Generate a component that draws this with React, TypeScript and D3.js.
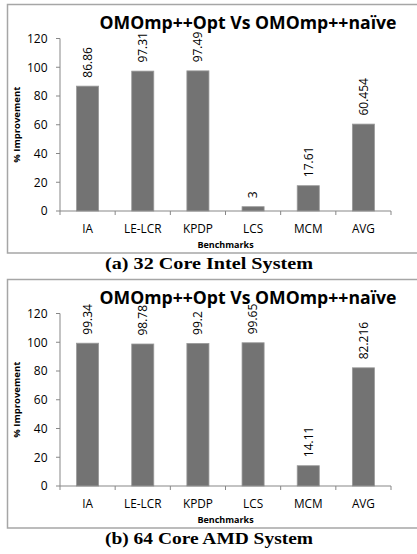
import React from "react";
import * as d3 from "d3";

const categories = ["IA", "LE-LCR", "KPDP", "LCS", "MCM", "AVG"];
const intelValues = [86.86, 97.31, 97.49, 3, 17.61, 60.454];
const amdValues = [99.34, 98.78, 99.2, 99.65, 14.11, 82.216];
const yTicks = [0, 20, 40, 60, 80, 100, 120];
const chartTitle = "OMOmp++Opt Vs OMOmp++naïve";
const yLabel = "% Improvement";
const xLabel = "Benchmarks";
const captions = ["(a) 32 Core Intel System", "(b) 64 Core AMD System"];

const W = 417;
const H = 554;
const SANS = "'Open Sans', 'Liberation Sans', sans-serif";
const SERIF = "'Liberation Serif', 'DejaVu Serif', serif";
const AXIS = "#878787";
const BAR = "#737373";

function Panel({ values, caption, dy }: { values: number[]; caption: string; dy: number }) {
  const x = d3.scaleBand<string>().domain(categories).range([60, 391]).paddingInner(0.6).paddingOuter(0.3);
  const y = d3.scaleLinear().domain([0, 120]).range([211, 38.5]);
  const x0 = 60;
  const bounds = d3.range(categories.length + 1).map((i) => x0 + i * (331 / categories.length));
  return (
    <g transform={`translate(0,${dy})`}>
      <rect x={7.5} y={4.5} width={430} height={248.5} fill="white" stroke="#a6a6a6" strokeWidth={1.5} />
      <text x={248} y={29} textAnchor="middle" fontFamily={SANS} fontWeight="bold" fontSize={18.5} textLength={297} lengthAdjust="spacingAndGlyphs" fill="#000">
        {chartTitle}
      </text>
      {/* y axis */}
      <line x1={60} x2={60} y1={y(120)} y2={y(0)} stroke={AXIS} strokeWidth={1} />
      {yTicks.map((t) => (
        <g key={t}>
          <line x1={56} x2={60} y1={y(t)} y2={y(t)} stroke={AXIS} strokeWidth={1} />
          <text x={47.5} y={y(t) + 4.3} textAnchor="end" fontFamily={SANS} fontSize={12} fill="#000">
            {t}
          </text>
        </g>
      ))}
      {/* bars */}
      {values.map((v, i) => {
        const c = categories[i];
        const bx = x(c)!;
        const cx = bx + x.bandwidth() / 2;
        const ty = y(v) - 8.5;
        return (
          <g key={c}>
            <rect x={bx} y={y(v)} width={x.bandwidth()} height={y(0) - y(v)} fill={BAR} stroke="#9a9a9a" strokeWidth={0.8} />
            <text transform={`translate(${cx + 4.3},${ty}) rotate(-90)`} textAnchor="start" fontFamily={SANS} fontSize={12} fill="#000">
              {String(v)}
            </text>
          </g>
        );
      })}
      {/* x axis */}
      <line x1={60} x2={391} y1={y(0)} y2={y(0)} stroke={AXIS} strokeWidth={1} />
      {bounds.map((b, i) => (
        <line key={i} x1={b} x2={b} y1={y(0)} y2={y(0) + 4} stroke={AXIS} strokeWidth={1} />
      ))}
      {categories.map((c) => (
        <text key={c} x={x(c)! + x.bandwidth() / 2} y={233} textAnchor="middle" fontFamily={SANS} fontSize={11.8} fill="#000">
          {c}
        </text>
      ))}
      <text x={225.5} y={248} textAnchor="middle" fontFamily={SANS} fontWeight="bold" fontSize={9} fill="#000">
        {xLabel}
      </text>
      <text transform={`translate(20,${(y(0) + y(120)) / 2}) rotate(-90)`} textAnchor="middle" fontFamily={SANS} fontWeight="bold" fontSize={9.5} fill="#000">
        {yLabel}
      </text>
      <text x={209} y={269} textAnchor="middle" fontFamily={SERIF} fontWeight="bold" fontSize={16} textLength={208} lengthAdjust="spacingAndGlyphs" fill="#000">
        {caption}
      </text>
    </g>
  );
}

export default function App() {
  return (
    <svg width={W} height={H} style={{ position: "absolute", left: 0, top: 0, background: "white" }}>
      <rect x={0} y={0} width={W} height={H} fill="white" />
      <Panel values={intelValues} caption={captions[0]} dy={0} />
      <Panel values={amdValues} caption={captions[1]} dy={275} />
    </svg>
  );
}
